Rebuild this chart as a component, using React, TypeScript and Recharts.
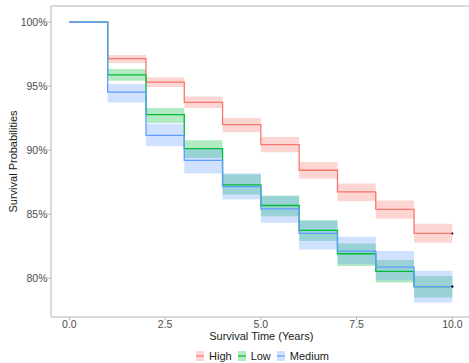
import React from 'react';
import { ComposedChart, Area, Line, XAxis, YAxis, ReferenceLine, Legend } from 'recharts';

// survival estimates per year (step function, value holds until next year)
const years = [0, 1, 2, 3, 4, 5, 6, 7, 8, 9, 10];

const highSurv = [100, 97.16, 95.33, 93.74, 92.0, 90.44, 88.44, 86.75, 85.38, 83.51, 83.51];
const highLower = [100, 96.81, 94.94, 93.3, 91.4, 89.84, 87.77, 86.02, 84.65, 82.78, 82.78];
const highUpper = [100, 97.45, 95.71, 94.2, 92.52, 91.04, 89.09, 87.4, 86.08, 84.26, 84.26];

const lowSurv = [100, 95.89, 92.78, 90.13, 87.3, 85.69, 83.74, 81.92, 80.55, 79.36, 79.36];
const lowLower = [100, 95.43, 92.13, 89.4, 86.55, 84.85, 82.91, 80.96, 79.67, 78.5, 78.5];
const lowUpper = [100, 96.34, 93.3, 90.78, 88.1, 86.47, 84.54, 82.73, 81.43, 80.18, 80.18];

const medSurv = [100, 94.55, 91.16, 89.22, 87.17, 85.43, 83.51, 82.13, 80.88, 79.36, 79.36];
const medLower = [100, 93.74, 90.31, 88.18, 86.15, 84.34, 82.26, 81.1, 79.85, 78.11, 78.11];
const medUpper = [100, 95.17, 92.08, 90.1, 88.2, 86.42, 84.5, 83.25, 82.13, 80.6, 80.6];

const groups = ['High', 'Low', 'Medium'];
const xTicks = [0, 2.5, 5, 7.5, 10];
const yTicks = [80, 85, 90, 95, 100];

const colors: Record<string, string> = { High: '#F8766D', Low: '#00BA38', Medium: '#619CFF' };
const bandColors: Record<string, string> = { High: '#FDD6D3', Low: '#B2EAC3', Medium: '#D0E1FF' };

const data = years.map((t, i) => ({
  t,
  High: highSurv[i],
  HighBand: [highLower[i], highUpper[i]],
  Low: lowSurv[i],
  LowBand: [lowLower[i], lowUpper[i]],
  Medium: medSurv[i],
  MediumBand: [medLower[i], medUpper[i]],
}));

const Y_MAX = 101.27;
const Y_MIN = 76.98;
const font = "'Liberation Sans', Arial, sans-serif";
const axisColor = '#b5b5b5';
const tickStyle = { fill: '#4d4d4d', fontSize: 10.5, fontFamily: font };

const censorDot = (props: any) => {
  const { cx, cy, index } = props;
  if (index !== years.length - 1) return <g key={`d${index}`} />;
  return <circle key={`d${index}`} cx={cx} cy={cy} r={1} fill='#000' />;
};

const LegendContent = () => (
  <div style={{ display: 'flex', alignItems: 'center', marginLeft: 196, paddingTop: 4, fontFamily: font, fontSize: 11, color: '#1a1a1a' }}>
    {groups.map((g, i) => (
      <div key={g} style={{ display: 'flex', alignItems: 'center', marginLeft: i === 0 ? 0 : 6 }}>
        <svg width={8} height={10} style={{ display: 'block' }}>
          <rect x={0} y={0} width={8} height={10} fill={bandColors[g]} />
          <line x1={0} x2={8} y1={5} y2={5} stroke={colors[g]} strokeWidth={1.2} />
        </svg>
        <span style={{ marginLeft: 5 }}>{g}</span>
      </div>
    ))}
  </div>
);

const App: React.FC = () => {
  return (
    <div style={{ position: 'absolute', left: 0, top: 0, width: 469, height: 363, overflow: 'hidden', background: '#fff' }}>
      <ComposedChart width={480} height={363} data={data} margin={{ top: 6, right: 8.5, left: 0, bottom: 0 }}>
        {groups.map((g) => (
          <Area
            key={`${g}-band`}
            type='stepAfter'
            dataKey={`${g}Band`}
            stroke='none'
            fill={colors[g]}
            fillOpacity={0.3}
            isAnimationActive={false}
            legendType='none'
          />
        ))}
        {groups.map((g) => (
          <Line
            key={g}
            type='stepAfter'
            dataKey={g}
            stroke={colors[g]}
            strokeWidth={1.3}
            dot={censorDot}
            activeDot={false}
            isAnimationActive={false}
          />
        ))}
        <XAxis
          dataKey='t'
          type='number'
          domain={[-0.48, 10.5]}
          ticks={xTicks}
          tickFormatter={(v: number) => v.toFixed(1)}
          tick={tickStyle}
          tickSize={3}
          tickMargin={1}
          stroke={axisColor}
          height={29}
          label={{ value: 'Survival Time (Years)', position: 'insideBottom', offset: 6, fill: '#1a1a1a', fontSize: 11, fontFamily: font }}
        />
        <YAxis
          type='number'
          domain={[Y_MIN, Y_MAX]}
          ticks={yTicks}
          tickFormatter={(v: number) => `${v}%`}
          tick={tickStyle}
          tickSize={2.5}
          tickMargin={1}
          stroke={axisColor}
          width={51}
          allowDataOverflow
          label={{ value: 'Survival Probabilities', angle: -90, position: 'insideLeft', offset: 13, fill: '#1a1a1a', fontSize: 11, fontFamily: font, style: { textAnchor: 'middle' } }}
        />
        <ReferenceLine y={Y_MAX} stroke={axisColor} />
        <Legend verticalAlign='bottom' content={LegendContent} wrapperStyle={{ left: 0, width: 469, height: 17 }} />
      </ComposedChart>
    </div>
  );
};

export default App;
